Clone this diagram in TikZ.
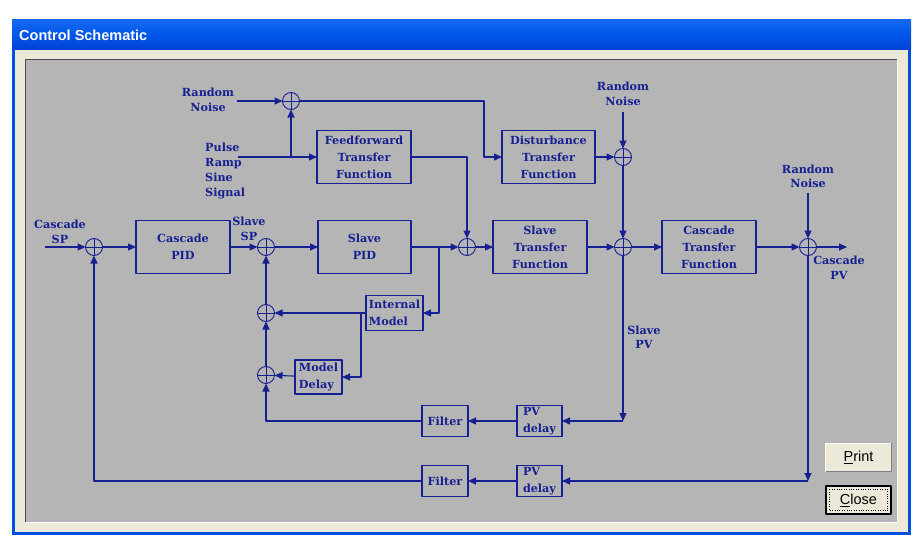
\documentclass[tikz,border=0pt]{standalone}
\usepackage{fontspec}
\setmainfont{DejaVu Serif}
\newfontfamily\winfont{Liberation Sans}
\usetikzlibrary{arrows.meta}
\definecolor{ink}{RGB}{22,32,145}
\definecolor{panel}{RGB}{181,181,181}
\definecolor{frame}{RGB}{236,233,216}
\definecolor{xpblue}{RGB}{0,78,224}
\begin{document}
\begin{tikzpicture}[x=1pt, y=-1pt, line join=round, >={Triangle[length=8pt,width=7pt]},
  font=\fontsize{11.2}{14.5}\bfseries\selectfont,
  wire/.style={draw=ink, line width=1.1pt},
  blk/.style={draw=ink, line width=1.1pt, text=ink, align=center, inner sep=0pt, outer sep=0pt,
    font=\fontsize{11.2}{17}\bfseries\selectfont},
  sum/.style={circle, draw=ink, line width=0.9pt, minimum size=17pt, inner sep=0pt, outer sep=0pt,
    path picture={\draw[ink, line width=0.9pt]
      (path picture bounding box.north) -- (path picture bounding box.south)
      (path picture bounding box.west) -- (path picture bounding box.east);}},
  lbl/.style={text=ink, align=center, inner sep=0pt},
  btn/.style={fill=frame, minimum width=65pt, minimum height=28pt, inner sep=0pt,
    font=\winfont\fontsize{14.5}{14.5}\selectfont}]
% window
\useasboundingbox (0,0) rectangle (923,551);
\fill[white] (0,0) rectangle (923,551);
\fill[xpblue] (12,20) rectangle (911,535);
\shade[top color={rgb,255:red,20;green,104;blue,240}, bottom color={rgb,255:red,0;green,66;blue,212},
  middle color={rgb,255:red,0;green,86;blue,232}] (12,20) rectangle (911,50);
\fill[frame] (15,50) rectangle (908,532);
\fill[panel] (26,60) rectangle (897,522);
\draw[gray!60!black] (25.5,522) -- (25.5,59.5) -- (897,59.5);
\draw[white] (26,522.5) -- (897.5,522.5) -- (897.5,60);
\node[anchor=west, text=white, inner sep=0pt, font=\winfont\fontsize{14.5}{14.5}\bfseries\selectfont]
  (title) at (19,35) {Control Schematic};
% buttons
\node[btn] (print) at (858.5,457.5) {\underline{P}rint};
\draw[white, line width=1pt] (print.south west) |- (print.north east);
\draw[gray, line width=1pt] (print.south west) -| (print.north east);
\node[btn, draw=black, line width=1.2pt] (close) at (858.5,500) {\underline{C}lose};
\draw[black, dotted] ([shift={(4,4)}]close.north west) rectangle ([shift={(-4,-4)}]close.south east);
% summing junctions
\foreach \n/\x/\y in {s1/94/247, s2/266/247, s3/467/247, s4/623/247, s5/808/247,
  s6/623/157, s7/291/101, s8/266/313, s9/266/375}
  \node[sum] (\n) at (\x,\y) {};
% blocks
\node[blk, minimum width=94pt, minimum height=53pt] (cpid) at (183,247) {Cascade\\PID};
\node[blk, minimum width=93pt, minimum height=53pt] (spid) at (364.5,247) {Slave\\PID};
\node[blk, minimum width=94pt, minimum height=53pt] (stf) at (540,247) {Slave\\Transfer\\Function};
\node[blk, minimum width=94pt, minimum height=53pt] (ctf) at (709,247) {Cascade\\Transfer\\Function};
\node[blk, minimum width=94pt, minimum height=53pt] (ff) at (364,157) {Feedforward\\Transfer\\Function};
\node[blk, minimum width=93pt, minimum height=53pt] (dist) at (548.5,157) {Disturbance\\Transfer\\Function};
\node[blk, align=left, minimum width=57pt, minimum height=35pt] (im) at (394.5,313) {Internal\\Model};
\node[blk, align=left, minimum width=47pt, minimum height=34pt] (md) at (318.5,377) {Model\\Delay};
\node[blk, minimum width=46pt, minimum height=31pt] (f1) at (445,421) {Filter};
\node[blk, align=left, minimum width=45pt, minimum height=31pt] (pvd1) at (539.5,421) {PV\\delay};
\node[blk, minimum width=46pt, minimum height=31pt] (f2) at (445,481) {Filter};
\node[blk, align=left, minimum width=45pt, minimum height=31pt] (pvd2) at (539.5,481) {PV\\delay};
% labels
\node[lbl] (csp) at (60,232) {Cascade\\SP};
\node[lbl] (ssp) at (249,229) {Slave\\SP};
\node[lbl] (rn1) at (208,100) {Random\\Noise};
\node[lbl, align=left, anchor=west, font=\fontsize{11.2}{15}\bfseries\selectfont] (sig) at (205,170.5) {Pulse\\Ramp\\Sine\\Signal};
\node[lbl] (rn2) at (623,94) {Random\\Noise};
\node[lbl] (rn3) at (808,176.5) {Random\\Noise};
\node[lbl] (cpv) at (839,267.5) {Cascade\\PV};
\node[lbl] (spv) at (644,337) {Slave\\PV};
% free ends and bends
\path
  (45,247) coordinate (spin)
  (237,101) coordinate (rn1o)
  (238,157) coordinate (sigo)
  (291,157) coordinate (k6)
  (484,101) coordinate (k1)
  (623,112) coordinate (rn2o)
  (808,193) coordinate (rn3o)
  (847,247) coordinate (pvout)
  (439,247) coordinate (k2)
  (361,313) coordinate (k3)
  (623,421) coordinate (k4)
  (808,481) coordinate (k5)
  ;
% main loop
\draw[wire,->] (spin) -- (s1);
\draw[wire,->] (s1) -- (cpid);
\draw[wire,->] (cpid) -- (s2);
\draw[wire,->] (s2) -- (spid);
\draw[wire,->] (spid) -- (s3);
\draw[wire,->] (s3) -- (stf);
\draw[wire,->] (stf) -- (s4);
\draw[wire,->] (s4) -- (ctf);
\draw[wire,->] (ctf) -- (s5);
\draw[wire,->] (s5) -- (pvout);
% disturbances
\draw[wire,->] (rn1o) -- (s7);
\draw[wire,->] (sigo) -- (ff);
\draw[wire,->] (k6) -- (s7);
\draw[wire,->] (s7) -- (k1) |- (dist);
\draw[wire,->] (ff) -| (s3);
\draw[wire,->] (dist) -- (s6);
\draw[wire,->] (rn2o) -- (s6);
\draw[wire,->] (s6) -- (s4);
\draw[wire,->] (rn3o) -- (s5);
% internal model
\draw[wire,->] (k2) |- (im);
\draw[wire,->] (im) -- (s8);
\draw[wire,->] (k3) |- (md);
\draw[wire,->] (md) -- (s9);
\draw[wire,->] (s9) -- (s8);
\draw[wire,->] (s8) -- (s2);
% feedback
\draw[wire,->] (s4) -- (k4);
\draw[wire,->] (k4) -- (pvd1);
\draw[wire,->] (pvd1) -- (f1);
\draw[wire,->] (f1) -| (s9);
\draw[wire,->] (s5) -- (k5);
\draw[wire,->] (k5) -- (pvd2);
\draw[wire,->] (pvd2) -- (f2);
\draw[wire,->] (f2) -| (s1);
\end{tikzpicture}
\end{document}
